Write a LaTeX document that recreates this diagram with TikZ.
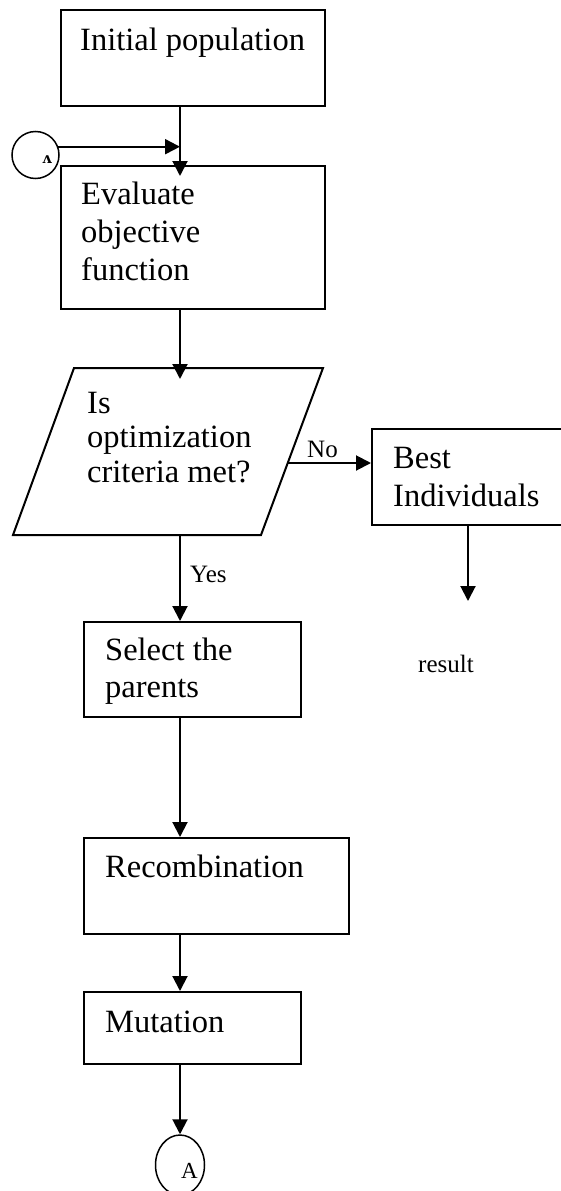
\documentclass[tikz,border=0pt]{standalone}
\usepackage{fontspec}
\setmainfont{Liberation Serif}
\newfontfamily\ipafont{DejaVu Serif}
\usetikzlibrary{arrows.meta,shapes.geometric}
\begin{document}
\begin{tikzpicture}[x=1pt,y=-1pt,
  box/.style={draw, line width=2pt, rectangle, inner sep=0pt, anchor=north west},
  conn/.style={line width=2pt, -{Triangle[length=15pt,width=15pt]}},
  txt/.style={anchor=base west, inner sep=0pt, font=\fontsize{32.5}{37}\selectfont},
  lbl/.style={anchor=base west, inner sep=0pt, font=\fontsize{25}{30}\selectfont},
  conncirc/.style={draw, line width=1.5pt, ellipse, inner sep=0pt}]
\useasboundingbox (0,0) rectangle (561,1191);
\coordinate (spine) at (180,0);
\coordinate (rx) at (468,0);

% boxes
\node[box, minimum width=264pt, minimum height=96pt] (init) at (60,9) {};
\node[box, minimum width=264pt, minimum height=143pt] (eval) at (60,165) {};
\node[box, minimum width=250pt, minimum height=96pt] (best) at (371,428) {};
\node[box, minimum width=217pt, minimum height=95pt] (select) at (83,621) {};
\node[box, minimum width=265pt, minimum height=96pt] (recomb) at (83,837) {};
\node[box, minimum width=217pt, minimum height=72pt] (mut) at (83,991) {};

% parallelogram
\draw[line width=2pt, line join=miter] (74,368) -- (323,368) -- (261,535) -- (13,535) -- cycle;
\coordinate (ptop) at (180,368);
\coordinate (pbot) at (180,535);
\coordinate (pright) at (288,463);

% connectors (circles)
\node[conncirc, minimum width=47pt, minimum height=47pt] (cin) at (35.5,155) {};
\node[anchor=center, inner sep=0pt, font=\ipafont\bfseries\fontsize{15}{15}\selectfont] (cinl) at (47,160) {ʌ};
\node[conncirc, minimum width=49pt, minimum height=60pt] (cout) at (180,1165) {};
\node[anchor=base west, inner sep=0pt, font=\fontsize{23}{23}\selectfont] (coutl) at (181,1178) {A};

% texts
\node[txt] (t1) at (80,50) {Initial population};
\node[txt] (t2a) at (81,204) {Evaluate};
\node[txt] (t2b) at (81,242) {objective};
\node[txt] (t2c) at (81,280) {function};
\node[txt] (t3a) at (87,413) {Is};
\node[txt] (t3b) at (87,447) {optimization};
\node[txt] (t3c) at (87,482) {criteria met?};
\node[txt] (t4a) at (393,468) {Best};
\node[txt] (t4b) at (393,506) {Individuals};
\node[txt] (t5a) at (105,660) {Select the};
\node[txt] (t5b) at (105,697) {parents};
\node[txt] (t6) at (105,877) {Recombination};
\node[txt] (t7) at (105,1032) {Mutation};
\node[lbl] (no) at (307,457) {No};
\node[lbl] (yes) at (190,582) {Yes};
\node[lbl] (res) at (418,672) {result};

% arrows
\coordinate (resend) at (468,601);
\draw[conn, shorten >=-11pt] (init.south -| spine) -- (eval.north -| spine);
\draw[conn] (cin.20) -- (cin.20 -| spine);
\draw[conn, shorten >=-11pt] (eval.south -| spine) -- (ptop);
\draw[conn] (pright) -- (pright -| best.west);
\draw[conn] (best.south -| rx) -- (resend);
\draw[conn] (pbot) -- (select.north -| spine);
\draw[conn] (select.south -| spine) -- (recomb.north -| spine);
\draw[conn] (recomb.south -| spine) -- (mut.north -| spine);
\draw[conn] (mut.south -| spine) -- (cout.north);
\end{tikzpicture}
\end{document}
